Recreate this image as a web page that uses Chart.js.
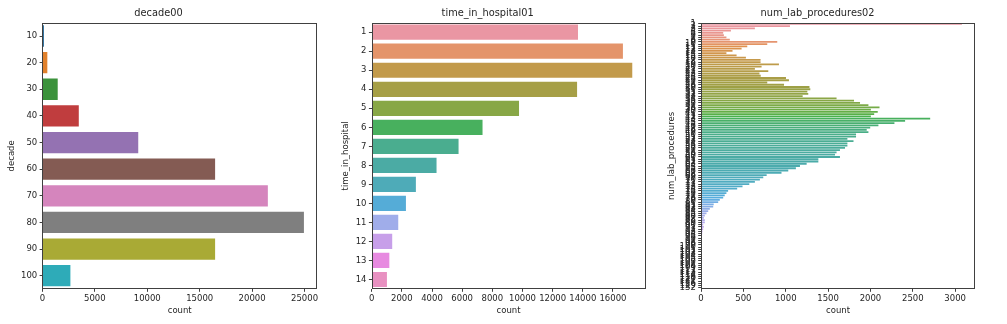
<!DOCTYPE html>
<html>
<head>
<meta charset="utf-8">
<script src="https://cdn.jsdelivr.net/npm/chart.js@4.4.0/dist/chart.umd.min.js"></script>
<style>
  html, body { margin: 0; padding: 0; background: #fff; }
  #wrap { position: relative; width: 1007px; height: 324px; background: #fff; overflow: hidden; }
  .cell { position: absolute; top: 0; height: 324px; }
</style>
</head>
<body>
<div id="wrap">
  <div class="cell" style="left:0px;width:330px"><canvas id="c1" width="330" height="324"></canvas></div>
  <div class="cell" style="left:330px;width:330px"><canvas id="c2" width="330" height="324"></canvas></div>
  <div class="cell" style="left:660px;width:347px"><canvas id="c3" width="347" height="324"></canvas></div>
</div>
<script>
// ---------------- DATA ----------------
const decadeLabels = ['10','20','30','40','50','60','70','80','90','100'];
const decadeCounts = [150, 470, 1460, 3470, 9140, 16470, 21500, 24940, 16470, 2670];
const decadeTicks = [0, 5000, 10000, 15000, 20000, 25000];

const timeLabels = ['1','2','3','4','5','6','7','8','9','10','11','12','13','14'];
const timeCounts = [13680, 16660, 17280, 13620, 9770, 7350, 5760, 4300, 2930, 2270, 1760, 1360, 1170, 1010];
const timeTicks = [0, 2000, 4000, 6000, 8000, 10000, 12000, 14000, 16000];

const labProcLabels = [
  '1','2','3','4','5','6','7','8','9','10','11','12','13','14','15','16','17','18','19','20',
  '21','22','23','24','25','26','27','28','29','30','31','32','33','34','35','36','37','38','39','40',
  '41','42','43','44','45','46','47','48','49','50','51','52','53','54','55','56','57','58','59','60',
  '61','62','63','64','65','66','67','68','69','70','71','72','73','74','75','76','77','78','79','80',
  '81','82','83','84','85','86','87','88','89','90','91','92','93','94','95','96','97','98','99','100',
  '101','102','103','104','105','106','107','108','109','111','113','114','118','120','121','126','129','132'
];
const labProcCounts = [
  3080, 1050, 636, 353, 262, 270, 300, 340, 900, 782,
  546, 479, 372, 300, 420, 530, 703, 703, 920, 715,
  636, 794, 690, 705, 1003, 1038, 782, 980, 1280, 1290,
  1255, 1266, 1200, 1600, 1806, 1877, 1976, 2107, 2005, 2086,
  2044, 2005, 2705, 2409, 2283, 2094, 1997, 1956, 1976, 1830,
  1830, 1728, 1800, 1728, 1728, 1700, 1640, 1600, 1582, 1640,
  1385, 1385, 1247, 1168, 1120, 1030, 950, 775, 735, 695,
  636, 570, 490, 427, 320, 300, 280, 262, 222, 203,
  150, 144, 104, 85, 65, 45, 33, 45, 45, 26,
  33, 26, 18, 14, 10, 10, 6, 5, 4, 5,
  3, 3, 4, 2, 3, 2, 1, 2, 2, 2,
  1, 1, 1, 1, 1, 1, 1, 1
];
const labProcTicks = [0, 500, 1000, 1500, 2000, 2500, 3000];

// ---------------- COLOURS (seaborn-style) ----------------
const tab10 = ['#1f77b4','#ff7f0e','#2ca02c','#d62728','#9467bd','#8c564b','#e377c2','#7f7f7f','#bcbd22','#17becf'];
function hexToRgb(h){ return [1,3,5].map(i => parseInt(h.substr(i,2),16)/255); }
function desat(rgb, p){
  const mx = Math.max(...rgb), mn = Math.min(...rgb), l = (mx+mn)/2;
  return rgb.map(c => l + (c - l)*p);
}
function toCss(rgb){ return 'rgb(' + rgb.map(c => Math.round(Math.min(1,Math.max(0,c))*255)).join(',') + ')'; }
const Mx = [[3.2406,-1.5372,-0.4986],[-0.9689,1.8758,0.0415],[0.0557,-0.2040,1.0570]];
function maxChroma(L, H){
  const hr = H/180*Math.PI, sinH = Math.sin(hr), cosH = Math.cos(hr);
  const sub1 = Math.pow(L+16,3)/1560896;
  const sub2 = sub1 > 0.008856 ? sub1 : L/903.3;
  let res = Infinity;
  for (const [m1,m2,m3] of Mx){
    const top = (0.99915*m1 + 1.05122*m2 + 1.14460*m3)*sub2;
    const rb = 0.86330*m3 - 0.17266*m2;
    const lb = 0.12949*m3 - 0.38848*m1;
    const bottom = (rb*sinH + lb*cosH)*sub2;
    for (const t of [0,1]){
      const C = L*(top - 1.05122*t)/(bottom + 0.17266*sinH*t);
      if (C > 0 && C < res) res = C;
    }
  }
  return res;
}
function huslToRgb(H, S, L){
  const C = maxChroma(L,H)/100*S;
  const hr = H/180*Math.PI;
  const U = Math.cos(hr)*C, V = Math.sin(hr)*C;
  const t = (L+16)/116;
  const Y = Math.pow(t,3) > 0.008856 ? Math.pow(t,3) : (116*t-16)/903.3;
  const vU = U/(13*L) + 0.19784, vV = V/(13*L) + 0.46834;
  const X = 0 - (9*Y*vU)/((vU-4)*vV - vU*vV);
  const Z = (9*Y - 15*vV*Y - vV*X)/(3*vV);
  return Mx.map(r => {
    const c = r[0]*X + r[1]*Y + r[2]*Z;
    const v = c <= 0.0031308 ? 12.92*c : 1.055*Math.pow(c,1/2.4) - 0.055;
    return Math.min(1, Math.max(0, v));
  });
}
function huslPalette(n){
  const out = [];
  for (let i = 0; i < n; i++){
    let h = (i/n + 0.01) % 1;
    out.push(toCss(desat(huslToRgb(h*359, 0.9*99, 0.7*99), 0.75)));
  }
  return out;
}
const decadeColors = tab10.map(h => toCss(desat(hexToRgb(h), 0.75)));
const timeColors = huslPalette(timeLabels.length);
const labColors = huslPalette(labProcLabels.length);

// ---------------- CHARTS ----------------
const FONT = 'DejaVu Sans';
const TXT = '#262626';
const LINE = '#404040';
const TICK_SIZE = 8.5;
const TITLE_SIZE = 9.8;
const framePlugin = {
  id: 'frame',
  afterDraw(chart){
    const a = chart.chartArea, ctx = chart.ctx;
    ctx.save();
    ctx.strokeStyle = LINE;
    ctx.lineWidth = 1;
    ctx.strokeRect(Math.round(a.left)+0.5, Math.round(a.top)+0.5, Math.round(a.right-a.left)-1, Math.round(a.bottom-a.top)-1);
    ctx.restore();
  }
};

function makeChart(id, labels, data, colors, title, yTitle, tickVals, cfg){
  const xMax = Math.max(...data)*1.05;
  return new Chart(document.getElementById(id), {
    type: 'bar',
    data: { labels: labels, datasets: [{ data: data, backgroundColor: colors, borderWidth: 0,
      categoryPercentage: 0.8, barPercentage: 1.0 }] },
    options: {
      indexAxis: 'y', responsive: false, animation: false, devicePixelRatio: 1,
      layout: { padding: { left: 0, right: cfg.padRight, top: 0, bottom: 0 } },
      plugins: {
        legend: { display: false }, tooltip: { enabled: false },
        title: { display: true, text: title, color: TXT, font: { family: FONT, size: TITLE_SIZE, weight: 'normal' },
          padding: { top: 7.12, bottom: 3.82 } }
      },
      scales: {
        x: {
          type: 'linear', min: 0, max: xMax,
          afterBuildTicks: s => { s.ticks = tickVals.map(v => ({ value: v })); },
          ticks: { color: TXT, font: { family: FONT, size: TICK_SIZE }, padding: 2.1, maxRotation: 0, autoSkip: false,
            callback: v => String(v) },
          grid: { drawOnChartArea: false, drawTicks: true, tickLength: 2.8, tickColor: LINE },
          border: { display: false },
          title: { display: true, text: 'count', color: TXT, font: { family: FONT, size: TICK_SIZE }, padding: { top: 0, bottom: 7.9 } },
          afterFit: s => { s.height = 35; }
        },
        y: {
          type: 'category', offset: true,
          ticks: { autoSkip: false, color: TXT, font: { family: FONT, size: TICK_SIZE }, padding: 2.4 },
          grid: { offset: false, drawOnChartArea: false, drawTicks: true, tickLength: 2.8, tickColor: LINE },
          border: { display: false },
          title: { display: true, text: yTitle, color: TXT, font: { family: FONT, size: TICK_SIZE }, padding: { top: cfg.yTitlePad, bottom: 0 } },
          afterFit: s => { s.width = cfg.yWidth; }
        }
      }
    },
    plugins: [framePlugin]
  });
}

makeChart('c1', decadeLabels, decadeCounts, decadeColors, 'decade00', 'decade', decadeTicks,
  { padRight: 13, yWidth: 42.4, yTitlePad: 6.9 });
makeChart('c2', timeLabels, timeCounts, timeColors, 'time_in_hospital01', 'time_in_hospital', timeTicks,
  { padRight: 14.7, yWidth: 41.7, yTitlePad: 10.9 });
makeChart('c3', labProcLabels, labProcCounts, labColors, 'num_lab_procedures02', 'num_lab_procedures', labProcTicks,
  { padRight: 32, yWidth: 41, yTitlePad: 6.6 });
</script>
</body>
</html>
